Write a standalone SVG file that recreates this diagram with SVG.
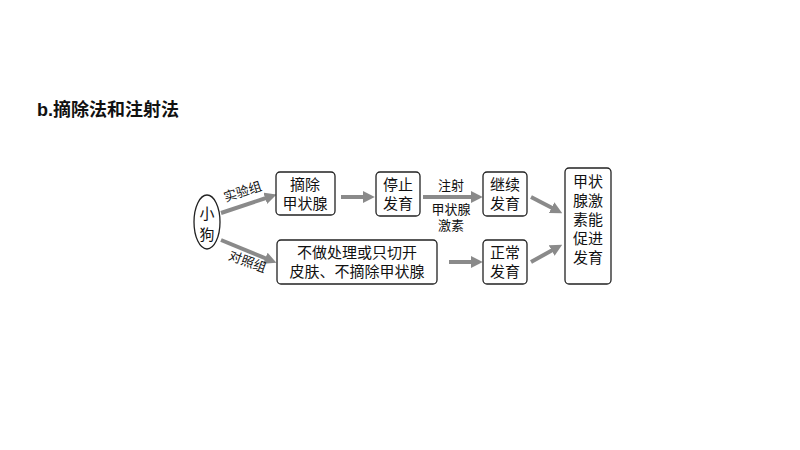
<svg xmlns="http://www.w3.org/2000/svg" width="800" height="450" viewBox="0 0 800 450">
<defs>
<style>
.b{fill:#fff;stroke:#222;stroke-width:1.3}
.t{font-family:"Liberation Serif","Noto Sans CJK SC",serif;font-size:15px;fill:#111;text-anchor:middle}
.s{font-size:13px}
.a{stroke:#8a8a8a;stroke-width:4;fill:none;marker-end:url(#m)}
</style>
<marker id="m" viewBox="0 0 10 10" refX="6" refY="5" markerWidth="3" markerHeight="3" orient="auto"><path d="M0,0L10,5L0,10z" fill="#8a8a8a"/></marker>
</defs>
<rect width="800" height="450" fill="#fff"/>
<text x="37" y="116" font-family="Liberation Sans,'Noto Sans CJK SC',sans-serif" font-size="18" font-weight="bold" fill="#111">b.摘除法和注射法</text>
<g id="connectors">
<path class="a" d="M221,213L272,196"/>
<path class="a" d="M221,240L272,261"/>
<path class="a" d="M341,197L370,197"/>
<path class="a" d="M423,197L478,197"/>
<path class="a" d="M449,262L478,262"/>
<path class="a" d="M531,197L558,211"/>
<path class="a" d="M531,262L558,247"/>
<text class="t s" transform="translate(244,196) rotate(-18)">实验组</text>
<text class="t s" transform="translate(246,266) rotate(20)">对照组</text>
<text class="t s" x="451" y="190">注射</text>
<text class="t s" x="451" y="214">甲状腺</text>
<text class="t s" x="451" y="230">激素</text>
</g>
<g id="dog"><ellipse class="b" cx="207" cy="222" rx="13" ry="27"/><text class="t" x="207" y="219">小</text><text class="t" x="207" y="240">狗</text></g>
<g id="n1"><rect class="b" x="276" y="172" width="59" height="43" rx="4"/><text class="t" x="305" y="190">摘除</text><text class="t" x="305" y="209">甲状腺</text></g>
<g id="n2"><rect class="b" x="376" y="172" width="44" height="44" rx="4"/><text class="t" x="398" y="190">停止</text><text class="t" x="398" y="209">发育</text></g>
<g id="n3"><rect class="b" x="483" y="172" width="44" height="44" rx="4"/><text class="t" x="505" y="190">继续</text><text class="t" x="505" y="209">发育</text></g>
<g id="n4"><rect class="b" x="277" y="240" width="160" height="44" rx="4"/><text class="t" x="357" y="258">不做处理或只切开</text><text class="t" x="357" y="277">皮肤、不摘除甲状腺</text></g>
<g id="n5"><rect class="b" x="483" y="240" width="44" height="44" rx="4"/><text class="t" x="505" y="258">正常</text><text class="t" x="505" y="277">发育</text></g>
<g id="n6"><rect class="b" x="565" y="168" width="46" height="116" rx="4"/><text class="t" x="588" y="187">甲状</text><text class="t" x="588" y="206">腺激</text><text class="t" x="588" y="225">素能</text><text class="t" x="588" y="244">促进</text><text class="t" x="588" y="263">发育</text></g>
</svg>
